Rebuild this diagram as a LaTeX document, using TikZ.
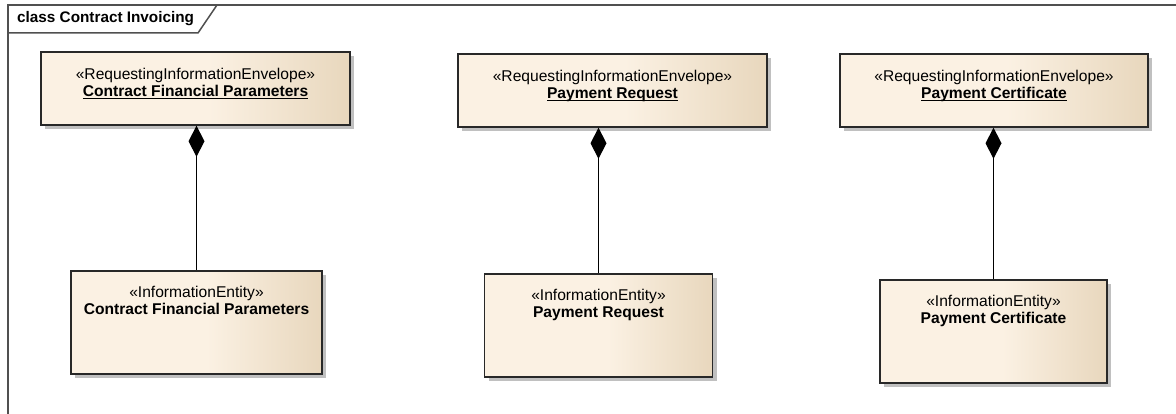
\documentclass[tikz,border=0pt]{standalone}
\usepackage{fontspec}
\setmainfont{Liberation Sans}
\usetikzlibrary{positioning}
\usetikzlibrary{arrows.meta}

\definecolor{boxlight}{RGB}{251,241,227}
\definecolor{boxtan}{RGB}{232,215,189}
\definecolor{boxline}{RGB}{40,40,40}
\definecolor{boxshadow}{RGB}{192,192,192}
\definecolor{frameline}{RGB}{80,80,80}
\pgfdeclarehorizontalshading{boxfill}{100bp}{color(0bp)=(boxlight); color(25bp)=(boxlight); color(52bp)=(boxlight); color(75bp)=(boxtan); color(100bp)=(boxtan)}

\newcommand{\ulname}[1]{\setbox0\hbox{#1}\rlap{\rule[-2.5pt]{\wd0}{1.1pt}}\box0}

\begin{document}
\begin{tikzpicture}[x=1pt, y=-1pt,
    every node/.style={
        font=\fontsize{15.6}{17}\selectfont
    },
    classbox/.style={
        rectangle,
        draw=boxline, line width=1.5pt,
        shading=boxfill,
        preaction={fill=boxshadow, transform canvas={xshift=4pt, yshift=-4pt}}
    },
    envelope/.style={
        classbox,
        minimum width=309pt, minimum height=73pt
    },
    entity/.style={
        classbox,
        minimum height=103pt
    },
    caption/.style={
        inner sep=0pt,
        align=center
    },
    frame/.style={
        draw=frameline, line width=1.5pt
    },
    composition/.style={
        {Diamond[length=31pt,width=16pt]}-,
        line width=1.2pt
    }
]
\useasboundingbox (0,0) rectangle (1176,414);

\draw[frame] (1176,5) -- (8,5) -- (8,414);
\draw[frame] (8,33) -- (198,33) -- (217,5);
\node[anchor=west, inner sep=0pt, font=\bfseries\fontsize{15.3}{17}\selectfont] (title) at (17,19) {class Contract Invoicing};

\node[envelope] (env1) at (195.5,88.5) {};
\node[envelope] (env2) at (612.5,90.5) {};
\node[envelope, minimum width=308pt] (env3) at (994,90.5) {};

\node[entity, minimum width=251pt] (ent1) at (196.5,322.5) {};
\node[entity, minimum width=228pt] (ent2) at (598.5,325.5) {};
\node[entity, minimum width=227pt] (ent3) at (993.5,331.5) {};

\node[caption, below=17pt of env1.north] (env1-text) {«RequestingInformationEnvelope»\\\textbf{\ulname{Contract Financial Parameters}}};
\node[caption, below=17pt of env2.north] (env2-text) {«RequestingInformationEnvelope»\\\textbf{\ulname{Payment Request}}};
\node[caption, below=17pt of env3.north] (env3-text) {«RequestingInformationEnvelope»\\\textbf{\ulname{Payment Certificate}}};

\node[caption, below=16pt of ent1.north] (ent1-text) {«InformationEntity»\\\textbf{Contract Financial Parameters}};
\node[caption, below=16pt of ent2.north] (ent2-text) {«InformationEntity»\\\textbf{Payment Request}};
\node[caption, below=16pt of ent3.north] (ent3-text) {«InformationEntity»\\\textbf{Payment Certificate}};

\draw[composition] (ent1.north |- env1.south) -- (ent1.north);
\draw[composition] (ent2.north |- env2.south) -- (ent2.north);
\draw[composition] (ent3.north |- env3.south) -- (ent3.north);
\end{tikzpicture}
\end{document}
